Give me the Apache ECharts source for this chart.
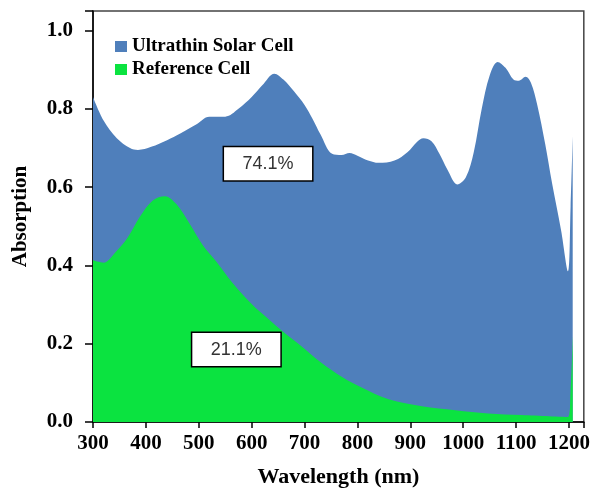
<!DOCTYPE html>
<html>
<head>
<meta charset="utf-8">
<script src="https://cdn.jsdelivr.net/npm/echarts@6/dist/echarts.min.js"></script>
<style>
  html, body { margin: 0; padding: 0; background: #fff; }
  #chart { width: 593px; height: 493px; }
</style>
</head>
<body>
<div id="chart"></div>
<script>
// wavelength (nm) / absorption
const ultraWl = [300, 320, 345, 370, 385, 410, 440, 465, 495, 520, 550, 575, 600, 620, 643, 660, 680, 700, 715, 730,
  752, 770, 785, 800, 820, 840, 870, 895, 912, 925, 940, 955, 970, 989, 1005, 1020, 1035, 1050, 1065, 1080,
  1095, 1105, 1118, 1128, 1140, 1155, 1168, 1185, 1198, 1203, 1207];
const ultraAbs = [0.83, 0.77, 0.725, 0.70, 0.695, 0.703, 0.72, 0.737, 0.76, 0.78, 0.78, 0.80, 0.83, 0.86, 0.89, 0.875, 0.845, 0.81, 0.775, 0.735,
  0.685, 0.682, 0.687, 0.68, 0.668, 0.662, 0.668, 0.69, 0.715, 0.725, 0.717, 0.685, 0.645, 0.607, 0.625, 0.69, 0.80, 0.885, 0.92, 0.905,
  0.875, 0.872, 0.882, 0.867, 0.81, 0.71, 0.61, 0.49, 0.385, 0.55, 0.73];

const refWl = [300, 320, 340, 365, 388, 413, 436, 458, 483, 507, 533, 564, 601, 630, 660, 690, 733, 771, 808, 859,
  922, 985, 1047, 1110, 1198, 1203, 1207];
const refAbs = [0.413, 0.407, 0.43, 0.47, 0.523, 0.566, 0.577, 0.556, 0.506, 0.453, 0.41, 0.355, 0.30, 0.265, 0.23, 0.198, 0.15, 0.115, 0.088, 0.058,
  0.04, 0.03, 0.022, 0.018, 0.013, 0.08, 0.22];

const seriesNames = ['Ultrathin Solar Cell', 'Reference Cell'];
const boxLabels = ['74.1%', '21.1%'];
const boxAt = [[631, 0.66], [571, 0.185]];

const serif = 'Liberation Serif';
const chart = echarts.init(document.getElementById('chart'));

const pairs = (xs, ys) => xs.map((x, i) => [x, ys[i]]);

const boxLabel = {
  show: true,
  position: 'inside',
  fontFamily: 'Liberation Sans',
  fontSize: 18,
  color: '#333',
  backgroundColor: '#fff',
  borderColor: '#000',
  borderWidth: 1.5,
  width: 88,
  height: 33,
  lineHeight: 33,
  align: 'center',
  verticalAlign: 'middle'
};

chart.setOption({
  animation: false,
  grid: {
    left: 93, right: 8, top: 11, bottom: 66,
    show: true, borderColor: '#444', borderWidth: 1.5
  },
  legend: {
    data: seriesNames,
    orient: 'vertical',
    left: 110,
    top: 32,
    itemGap: 4,
    itemWidth: 12,
    itemHeight: 11,
    icon: 'rect',
    textStyle: { fontFamily: serif, fontWeight: 'bold', fontSize: 19, color: '#000' }
  },
  xAxis: {
    type: 'value',
    min: 300,
    max: 1228,
    interval: 100,
    name: 'Wavelength (nm)',
    nameLocation: 'middle',
    nameGap: 44,
    nameTextStyle: { fontFamily: serif, fontWeight: 'bold', fontSize: 22, color: '#000' },
    axisLine: { lineStyle: { color: '#000', width: 1.5 } },
    axisTick: { length: 6, lineStyle: { color: '#000', width: 1.5 } },
    axisLabel: {
      margin: 11,
      fontFamily: serif, fontWeight: 'bold', fontSize: 21, color: '#000',
      formatter: v => (v % 100 === 0 && v <= 1200 ? String(v) : '')
    },
    splitLine: { show: false }
  },
  yAxis: {
    type: 'value',
    min: 0,
    max: 1.05,
    interval: 0.2,
    name: 'Absorption',
    nameLocation: 'middle',
    nameGap: 62,
    nameTextStyle: { fontFamily: serif, fontWeight: 'bold', fontSize: 21, color: '#000' },
    axisLine: { show: true, lineStyle: { color: '#000', width: 1.5 } },
    axisTick: { show: true, length: 8, lineStyle: { color: '#000', width: 1.5 } },
    axisLabel: {
      margin: 20,
      fontFamily: serif, fontWeight: 'bold', fontSize: 21, color: '#000',
      formatter: v => (v <= 1.0001 ? v.toFixed(1) : '')
    },
    splitLine: { show: false }
  },
  series: [
    {
      name: seriesNames[0],
      type: 'line',
      data: pairs(ultraWl, ultraAbs),
      smooth: 0.35,
      symbol: 'none',
      color: '#4F7FBB',
      lineStyle: { width: 0 },
      areaStyle: { color: '#4F7FBB', opacity: 1 },
      z: 2,
      markPoint: {
        symbol: 'rect', symbolSize: 0,
        data: [{ coord: boxAt[0], value: boxLabels[0] }],
        label: Object.assign({ formatter: boxLabels[0] }, boxLabel)
      }
    },
    {
      name: seriesNames[1],
      type: 'line',
      data: pairs(refWl, refAbs),
      smooth: 0.35,
      symbol: 'none',
      color: '#0BE340',
      lineStyle: { width: 0 },
      areaStyle: { color: '#0BE340', opacity: 1 },
      z: 3,
      markPoint: {
        symbol: 'rect', symbolSize: 0,
        data: [{ coord: boxAt[1], value: boxLabels[1] }],
        label: Object.assign({ formatter: boxLabels[1] }, boxLabel)
      }
    }
  ]
});
</script>
</body>
</html>
